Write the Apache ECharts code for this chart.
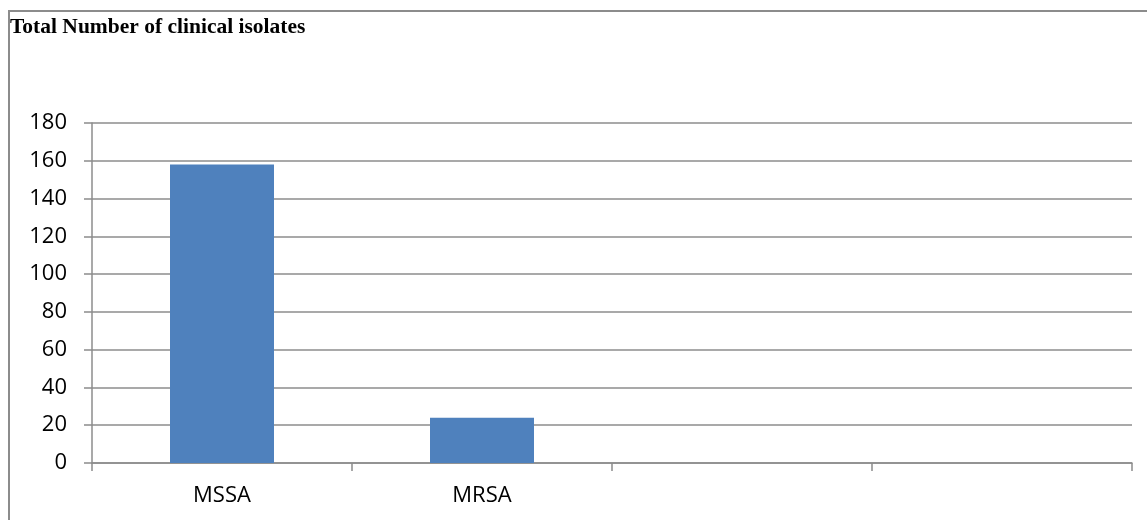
<!DOCTYPE html>
<html>
<head>
<meta charset="utf-8">
<script src="https://cdn.jsdelivr.net/npm/echarts@6/dist/echarts.min.js"></script>
<style>
html,body{margin:0;padding:0;background:#fff;}
#chart{width:1147px;height:520px;}
</style>
</head>
<body>
<div id="chart"></div>
<script>
var titleText = 'Total Number of clinical isolates';
var categories = ['MSSA', 'MRSA', '', ''];
var values = [158, 24, null, null];
var yTicks = { min: 0, max: 180, interval: 20 };

var chart = echarts.init(document.getElementById('chart'), null, { renderer: 'canvas' });
var gridColor = '#8c8c8c';
chart.setOption({
  animation: false,
  backgroundColor: '#ffffff',
  graphic: [
    {
      type: 'polyline',
      shape: { points: [[9, 520], [9, 11], [1147, 11]] },
      style: { stroke: '#8c8c8c', lineWidth: 2, fill: null },
      silent: true
    }
  ],
  title: {
    text: titleText,
    left: 10,
    top: 16,
    padding: 0,
    textStyle: {
      fontFamily: 'Liberation Serif',
      fontWeight: 'bold',
      fontSize: 21.5,
      color: '#000'
    }
  },
  grid: { left: 92, right: 15, top: 123, bottom: 57, containLabel: false },
  xAxis: {
    type: 'category',
    data: categories,
    boundaryGap: true,
    axisLine: { show: true, lineStyle: { color: gridColor, width: 1.5 } },
    axisTick: { show: true, length: 8, alignWithLabel: false, lineStyle: { color: gridColor, width: 1.5 } },
    axisLabel: { margin: 22, fontFamily: 'Open Sans', fontSize: 22, color: '#000', interval: 0 },
    splitLine: { show: false }
  },
  yAxis: {
    type: 'value',
    min: yTicks.min,
    max: yTicks.max,
    interval: yTicks.interval,
    axisLine: { show: true, lineStyle: { color: gridColor, width: 1.5 } },
    axisTick: { show: true, length: 8, lineStyle: { color: gridColor, width: 1.5 } },
    axisLabel: { margin: 25, fontFamily: 'Open Sans', fontSize: 22, color: '#000' },
    splitLine: { show: true, lineStyle: { color: gridColor, width: 1.5 } }
  },
  series: [{
    type: 'bar',
    data: values,
    barWidth: '40%',
    itemStyle: { color: '#4f81bd' }
  }]
});
</script>
</body>
</html>
